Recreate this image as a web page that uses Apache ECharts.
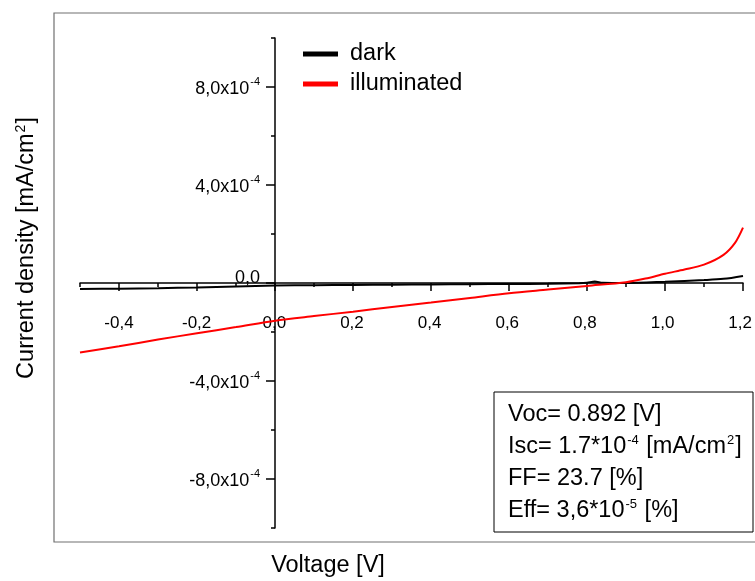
<!DOCTYPE html>
<html>
<head>
<meta charset="utf-8">
<script src="https://cdn.jsdelivr.net/npm/echarts@6/dist/echarts.min.js"></script>
<style>html,body{margin:0;padding:0;background:#fff}#c{width:755px;height:581px}</style>
</head>
<body>
<div id="c"></div>
<script>
// ---- data (current density in mA/cm^2) ----
var voltageDark = [-0.5,-0.4,-0.3,-0.2,-0.1,0.0,0.1,0.2,0.3,0.4,0.5,0.6,0.7,0.78,0.8,0.82,0.84,0.9,1.0,1.1,1.15,1.2];
var currentDark = [-0.24e-4,-0.23e-4,-0.21e-4,-0.18e-4,-0.14e-4,-0.10e-4,-0.09e-4,-0.08e-4,-0.07e-4,-0.06e-4,-0.05e-4,-0.04e-4,-0.03e-4,-0.01e-4,0.01e-4,0.06e-4,0.01e-4,0.0,0.05e-4,0.12e-4,0.17e-4,0.29e-4];
var voltageIllum = [-0.5,-0.4,-0.3,-0.2,-0.1,0.0,0.1,0.2,0.3,0.4,0.5,0.6,0.7,0.8,0.9,0.95,1.0,1.05,1.1,1.15,1.18,1.2];
var currentIllum = [-2.84e-4,-2.58e-4,-2.31e-4,-2.05e-4,-1.80e-4,-1.54e-4,-1.35e-4,-1.17e-4,-0.98e-4,-0.80e-4,-0.61e-4,-0.42e-4,-0.27e-4,-0.12e-4,0.03e-4,0.18e-4,0.38e-4,0.55e-4,0.75e-4,1.15e-4,1.65e-4,2.26e-4];
var seriesNames = ['dark','illuminated'];
var xTickValues = [-0.4,-0.2,0.0,0.2,0.4,0.6,0.8,1.0,1.2];
var xTickLabels = ['-0,4','-0,2','0,0','0,2','0,4','0,6','0,8','1,0','1,2'];
var yTickValues = [-8e-4,-4e-4,0,4e-4,8e-4];
var yTickMantissa = ['-8,0','-4,0','0,0','4,0','8,0'];
var yTickExponent = ['-4','-4','','-4','-4'];
var infoLines = [
  ['Voc= 0.892 [V]'],
  ['Isc= 1.7*10','-4',' [mA/cm','2',']'],
  ['FF= 23.7 [%]'],
  ['Eff= 3,6*10','-5',' [%]']
];

var FONT = '"Liberation Sans", Arial, sans-serif';
var BIG = 23.5;
function nearestIndex(arr, v){var b=0,d=1e9;for(var i=0;i<arr.length;i++){var e=Math.abs(arr[i]-v);if(e<d){d=e;b=i;}}return b;}
function pair(xs, ys){return xs.map(function(x,i){return [x, ys[i]];});}
function infoText(){
  return infoLines.map(function(parts){
    return parts.map(function(p,i){return (i%2===1)?'{s|'+p+'}':'{t|'+p+'}';}).join('');
  }).join('\n');
}

// pixel layout of the plot
var X0 = 80, X1 = 743;       // -0.5 .. 1.2 V
var Y0 = 38, Y1 = 528;       // 1e-3 .. -1e-3
var ZX = 275, ZY = 283;      // zero lines
var MX = 39, MY = 49;        // 0.1 V and 2e-4 in px

var chart = echarts.init(document.getElementById('c'), null, {renderer:'canvas'});
var option = {
  animation:false,
  backgroundColor:'#fff',
  textStyle:{fontFamily:FONT},
  grid:[
    {left:X0, top:Y0, width:X1-X0, height:Y1-Y0},                 // 0 main
    {left:X0+MX, top:Y0+MY, width:X1-X0-MX, height:Y1-Y0-2*MY},   // 1 major ticks
    {left:X0+MX, top:Y0+MY, width:X1-X0-MX, height:ZY-Y0-MY},     // 2 x labels (bottom edge at zero)
    {left:ZX, top:Y0+MY, width:X1-ZX, height:Y1-Y0-2*MY}          // 3 y labels (left edge at zero)
  ],
  xAxis:[
    {type:'value', gridIndex:0, min:-0.5, max:1.2, interval:0.1,
     axisLine:{onZero:true, lineStyle:{color:'#000', width:1.5}},
     axisTick:{show:true, length:4, lineStyle:{color:'#000', width:1.5}},
     axisLabel:{show:false}, splitLine:{show:false}},
    {type:'value', gridIndex:1, min:-0.4, max:1.2, interval:0.2,
     axisLine:{onZero:true, show:false},
     axisTick:{show:true, length:8, lineStyle:{color:'#000', width:1.5}},
     axisLabel:{show:false}, splitLine:{show:false}},
    {type:'value', gridIndex:2, min:-0.4, max:1.2, interval:0.2, position:'bottom',
     axisLine:{onZero:false, show:false}, axisTick:{show:false},
     axisLabel:{show:true, margin:32, fontSize:17, color:'#000', fontFamily:FONT,
       formatter:function(v){return xTickLabels[nearestIndex(xTickValues,v)];}},
     splitLine:{show:false}},
    {type:'value', gridIndex:3, min:0, max:1, show:false}
  ],
  yAxis:[
    {type:'value', gridIndex:0, min:-1e-3, max:1e-3, interval:2e-4,
     axisLine:{onZero:true, lineStyle:{color:'#000', width:1.5}},
     axisTick:{show:true, length:4, lineStyle:{color:'#000', width:1.5}},
     axisLabel:{show:false}, splitLine:{show:false}},
    {type:'value', gridIndex:1, min:-8e-4, max:8e-4, interval:4e-4,
     axisLine:{onZero:true, show:false},
     axisTick:{show:true, length:9, lineStyle:{color:'#000', width:1.5}},
     axisLabel:{show:false}, splitLine:{show:false}},
    {type:'value', gridIndex:2, min:0, max:1, show:false},
    {type:'value', gridIndex:3, min:-8e-4, max:8e-4, interval:4e-4, position:'left',
     axisLine:{onZero:false, show:false}, axisTick:{show:false},
     axisLabel:{show:true, margin:15, color:'#000', fontFamily:FONT,
       formatter:function(v){
         var i = nearestIndex(yTickValues, v);
         if(!yTickExponent[i]) return '{z|'+yTickMantissa[i]+'}';
         return '{m|'+yTickMantissa[i]+'x10}{e|'+yTickExponent[i]+'}';
       },
       rich:{
         m:{fontSize:18, color:'#000', fontFamily:FONT, lineHeight:22, verticalAlign:'middle', padding:[4,0,0,0]},
         z:{fontSize:18, color:'#000', fontFamily:FONT, lineHeight:22, verticalAlign:'middle', padding:[0,0,9,0]},
         e:{fontSize:11, color:'#000', fontFamily:FONT, lineHeight:22, verticalAlign:'top', padding:[0,0,0,1]}
       }},
     splitLine:{show:false}}
  ],
  legend:{
    orient:'vertical', left:298, top:37, itemGap:6, itemWidth:35, itemHeight:5,
    icon:'rect',
    textStyle:{fontSize:BIG, color:'#000', fontFamily:FONT, padding:[0,0,0,7]},
    data:seriesNames
  },
  series:[
    {name:seriesNames[0], type:'line', xAxisIndex:0, yAxisIndex:0, data:pair(voltageDark,currentDark),
     showSymbol:false, symbol:'none', smooth:0.3, lineStyle:{color:'#000', width:2}, itemStyle:{color:'#000'}},
    {name:seriesNames[1], type:'line', xAxisIndex:0, yAxisIndex:0, data:pair(voltageIllum,currentIllum),
     showSymbol:false, symbol:'none', smooth:0.3, lineStyle:{color:'#ff0000', width:2}, itemStyle:{color:'#ff0000'}}
  ],
  graphic:[
    {type:'rect', silent:true, z:-1, shape:{x:54, y:13, width:720, height:529},
     style:{fill:null, stroke:'#707070', lineWidth:1.2}},
    {type:'text', x:328, y:566, style:{text:'Voltage [V]', font:BIG+'px '+FONT, fill:'#000', textAlign:'center', textVerticalAlign:'middle'}},
    {type:'text', x:27, y:248, rotation:Math.PI/2,
     style:{text:'{t|Current density [mA/cm}{s|2}{t|]}', textAlign:'center', textVerticalAlign:'middle',
       rich:{t:{fontSize:BIG, fontFamily:FONT, fill:'#000', lineHeight:28},
             s:{fontSize:14, fontFamily:FONT, fill:'#000', lineHeight:28, verticalAlign:'top', padding:[1,1,0,1]}}}},
    {type:'rect', shape:{x:494, y:392, width:259, height:140}, style:{fill:'#fff', stroke:'#000', lineWidth:1}},
    {type:'text', x:508, y:399,
     style:{text:infoText(), textAlign:'left', textVerticalAlign:'top',
       rich:{t:{fontSize:BIG, fontFamily:FONT, fill:'#000', lineHeight:32},
             s:{fontSize:13, fontFamily:FONT, fill:'#000', lineHeight:32, verticalAlign:'top', padding:[3,1,0,1]}}}}
  ]
};
chart.setOption(option);
</script>
</body>
</html>
